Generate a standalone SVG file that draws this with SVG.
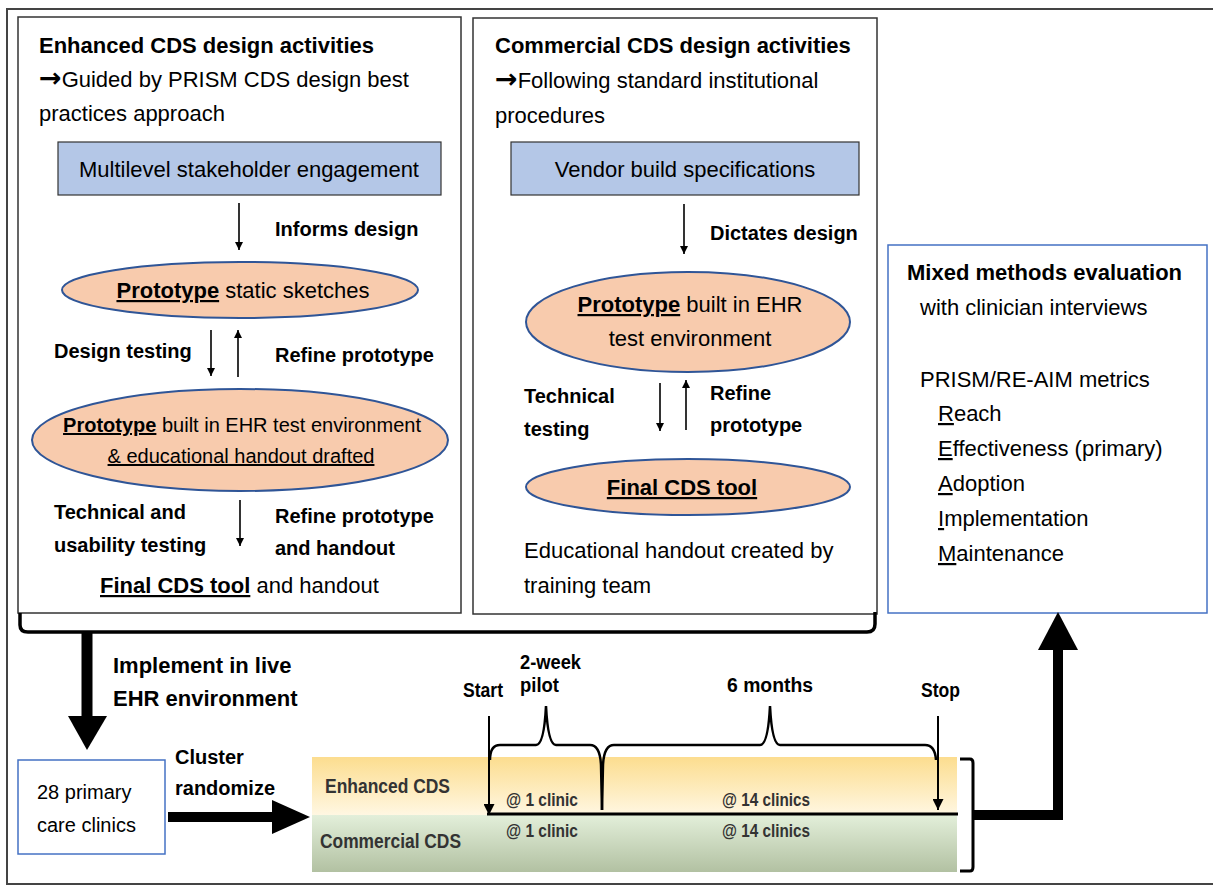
<svg xmlns="http://www.w3.org/2000/svg" width="1213" height="886" viewBox="0 0 1213 886">
<defs>
<style>
text{font-family:"Liberation Sans",Arial,sans-serif;fill:#000}
.r22{font-size:22px}
.b22{font-size:22px;font-weight:bold}
.b20{font-size:20px;font-weight:bold}
.r20{font-size:20px}
.u{text-decoration:underline}
.ar{font-family:"DejaVu Sans",sans-serif;font-size:27px;font-weight:bold}
.bx{fill:#b4c7e7;stroke:#333;stroke-width:1.2}
.el{fill:#f8cbad;stroke:#2f5597;stroke-width:2}
.thin{stroke:#000;stroke-width:1.6;fill:none}
.tl{font-weight:bold;fill:#333}
</style>
<marker id="ah" viewBox="0 0 10 10" refX="10" refY="5" markerWidth="8" markerHeight="9" markerUnits="userSpaceOnUse" orient="auto"><path d="M0,0 L10,5 L0,10 Z" fill="#000"/></marker>
<marker id="ah2" viewBox="0 0 10 10" refX="10" refY="5" markerWidth="16" markerHeight="11" markerUnits="userSpaceOnUse" orient="auto"><path d="M0,0 L10,5 L0,10 Z" fill="#000"/></marker>
<linearGradient id="gy" x1="0" y1="0" x2="0" y2="1"><stop offset="0" stop-color="#fcdd8f"/><stop offset="1" stop-color="#fff7e2"/></linearGradient>
<linearGradient id="gg" x1="0" y1="0" x2="0" y2="1"><stop offset="0" stop-color="#e3efda"/><stop offset="1" stop-color="#b2c1a2"/></linearGradient>
</defs>
<rect width="1213" height="886" fill="#fff"/>
<rect x="7" y="9" width="1212" height="875" fill="none" stroke="#444" stroke-width="2"/>

<g id="enhanced">
<rect x="18" y="17" width="443" height="596" fill="#fff" stroke="#333" stroke-width="1.5"/>
<text class="b22" x="39" y="53">Enhanced CDS design activities</text>
<text class="r22" x="39" y="87"><tspan class="ar">→</tspan>Guided by PRISM CDS design best</text>
<text class="r22" x="39" y="121">practices approach</text>
</g>
<g id="multilevel">
<rect class="bx" x="58" y="142" width="383" height="53"/>
<text class="r22" x="249" y="177" text-anchor="middle">Multilevel stakeholder engagement</text>
</g>
<g id="proto1">
<ellipse class="el" cx="240" cy="290" rx="178" ry="28"/>
<text class="r22" x="243" y="298" text-anchor="middle"><tspan class="u" font-weight="bold">Prototype</tspan> static sketches</text>
</g>
<g id="proto2">
<ellipse class="el" cx="240" cy="440" rx="208" ry="51"/>
<text class="r20" x="242" y="432" text-anchor="middle"><tspan class="u" font-weight="bold">Prototype</tspan> built in EHR test environment</text>
<text class="r20 u" x="241" y="463" text-anchor="middle">&amp; educational handout drafted</text>
</g>
<g id="final1">
<text class="r22" x="100" y="593"><tspan class="u" font-weight="bold">Final CDS tool</tspan> and handout</text>
</g>

<g id="commercial">
<rect x="473" y="18" width="404" height="596" fill="#fff" stroke="#333" stroke-width="1.5"/>
<text class="b22" x="495" y="53">Commercial CDS design activities</text>
<text class="r22" x="495" y="88"><tspan class="ar">→</tspan>Following standard institutional</text>
<text class="r22" x="495" y="123">procedures</text>
<text class="r22" x="524" y="558">Educational handout created by</text>
<text class="r22" x="524" y="593">training team</text>
</g>
<g id="vendor">
<rect class="bx" x="511" y="142" width="348" height="53"/>
<text class="r22" x="685" y="177" text-anchor="middle">Vendor build specifications</text>
</g>
<g id="proto3">
<ellipse class="el" cx="688" cy="322" rx="162" ry="50"/>
<text class="r22" x="690" y="312" text-anchor="middle"><tspan class="u" font-weight="bold">Prototype</tspan> built in EHR</text>
<text class="r22" x="690" y="346" text-anchor="middle">test environment</text>
</g>
<g id="final2">
<ellipse class="el" cx="688" cy="487" rx="162" ry="28"/>
<text class="b22 u" x="682" y="495" text-anchor="middle">Final CDS tool</text>
</g>

<g id="evaluation">
<rect x="888" y="245" width="319" height="368" fill="#fff" stroke="#4472c4" stroke-width="1.5"/>
<text class="b22" x="907" y="280">Mixed methods evaluation</text>
<text class="r22" x="920" y="315">with clinician interviews</text>
<text class="r22" x="920" y="387">PRISM/RE-AIM metrics</text>
<text class="r22" x="938" y="421"><tspan class="u">R</tspan>each</text>
<text class="r22" x="938" y="456"><tspan class="u">E</tspan>ffectiveness (primary)</text>
<text class="r22" x="938" y="491"><tspan class="u">A</tspan>doption</text>
<text class="r22" x="938" y="526"><tspan class="u">I</tspan>mplementation</text>
<text class="r22" x="938" y="561"><tspan class="u">M</tspan>aintenance</text>
</g>

<g id="clinics">
<rect x="18" y="760" width="147" height="94" fill="#fff" stroke="#4472c4" stroke-width="1.5"/>
<text class="r20" x="37" y="799">28 primary</text>
<text class="r20" x="37" y="832">care clinics</text>
</g>

<g id="timeline">
<rect x="312" y="757" width="645" height="58" fill="url(#gy)"/>
<rect x="312" y="815" width="645" height="57" fill="url(#gg)"/>
<text class="tl" x="325" y="793" font-size="20" textLength="125" lengthAdjust="spacingAndGlyphs">Enhanced CDS</text>
<text class="tl" x="320" y="848" font-size="20" textLength="141" lengthAdjust="spacingAndGlyphs">Commercial CDS</text>
<text class="tl" x="506" y="806" font-size="18" textLength="72" lengthAdjust="spacingAndGlyphs">@ 1 clinic</text>
<text class="tl" x="506" y="837" font-size="18" textLength="72" lengthAdjust="spacingAndGlyphs">@ 1 clinic</text>
<text class="tl" x="722" y="806" font-size="18" textLength="88" lengthAdjust="spacingAndGlyphs">@ 14 clinics</text>
<text class="tl" x="722" y="837" font-size="18" textLength="88" lengthAdjust="spacingAndGlyphs">@ 14 clinics</text>
<text x="463" y="697" font-size="20" font-weight="bold" textLength="40" lengthAdjust="spacingAndGlyphs">Start</text>
<text x="520" y="669" font-size="20" font-weight="bold" textLength="61" lengthAdjust="spacingAndGlyphs">2-week</text>
<text x="520" y="692" font-size="20" font-weight="bold" textLength="39" lengthAdjust="spacingAndGlyphs">pilot</text>
<text x="727" y="692" font-size="20" font-weight="bold" textLength="86" lengthAdjust="spacingAndGlyphs">6 months</text>
<text x="921" y="697" font-size="20" font-weight="bold" textLength="39" lengthAdjust="spacingAndGlyphs">Stop</text>
<path d="M490,760 Q490,745 500,745 L536,745 Q544,745 546,706 Q548,745 556,745 L590,745 Q600,745 601,765 L602,810" fill="none" stroke="#000" stroke-width="2.5"/>
<path d="M602,810 L603,765 Q604,745 614,745 L760,745 Q768,745 770,706 Q772,745 780,745 L925,745 Q935,745 936,760" fill="none" stroke="#000" stroke-width="2.5"/>
<line x1="487" y1="814" x2="958" y2="814" stroke="#000" stroke-width="3"/>
<path d="M960,759 L970,759 Q973,759 973,763 L973,867 Q973,871 970,871 L960,871" fill="none" stroke="#000" stroke-width="3"/>
</g>

<g id="connectors">
<line class="thin" x1="239" y1="203" x2="239" y2="250" marker-end="url(#ah)"/>
<line class="thin" x1="211" y1="330" x2="211" y2="376" marker-end="url(#ah)"/>
<line class="thin" x1="238" y1="377" x2="238" y2="330" marker-end="url(#ah)"/>
<line class="thin" x1="240" y1="500" x2="240" y2="546" marker-end="url(#ah)"/>
<line class="thin" x1="684" y1="204" x2="684" y2="254" marker-end="url(#ah)"/>
<line class="thin" x1="660" y1="383" x2="660" y2="431" marker-end="url(#ah)"/>
<line class="thin" x1="686" y1="430" x2="686" y2="380" marker-end="url(#ah)"/>
<line x1="489" y1="716" x2="489" y2="815" stroke="#000" stroke-width="2" marker-end="url(#ah2)"/>
<line x1="938" y1="716" x2="938" y2="810" stroke="#000" stroke-width="2" marker-end="url(#ah2)"/>
<path d="M20,613 L20,625 Q20,632 28,632 L867,632 Q875,632 875,624 L875,612" fill="none" stroke="#000" stroke-width="3.5"/>
<line x1="87" y1="632" x2="87" y2="720" stroke="#000" stroke-width="11"/>
<polygon points="68,716 107,716 87,750" fill="#000"/>
<line x1="168" y1="817" x2="276" y2="817" stroke="#000" stroke-width="10"/>
<polygon points="272,800 272,834 310,817" fill="#000"/>
<polyline points="973,815 1058,815 1058,648" fill="none" stroke="#000" stroke-width="10"/>
<polygon points="1038,650 1078,650 1058,612" fill="#000"/>
<text class="b20" x="275" y="236">Informs design</text>
<text class="b20" x="54" y="358">Design testing</text>
<text class="b20" x="275" y="362">Refine prototype</text>
<text class="b20" x="54" y="519">Technical and</text>
<text class="b20" x="54" y="552">usability testing</text>
<text class="b20" x="275" y="523">Refine prototype</text>
<text class="b20" x="275" y="555">and handout</text>
<text class="b20" x="710" y="240">Dictates design</text>
<text class="b20" x="524" y="403">Technical</text>
<text class="b20" x="524" y="436">testing</text>
<text class="b20" x="710" y="400">Refine</text>
<text class="b20" x="710" y="432">prototype</text>
<text class="b22" x="113" y="673">Implement in live</text>
<text class="b22" x="113" y="706">EHR environment</text>
<text class="b20" x="175" y="764">Cluster</text>
<text class="b20" x="175" y="795">randomize</text>
</g>
</svg>
